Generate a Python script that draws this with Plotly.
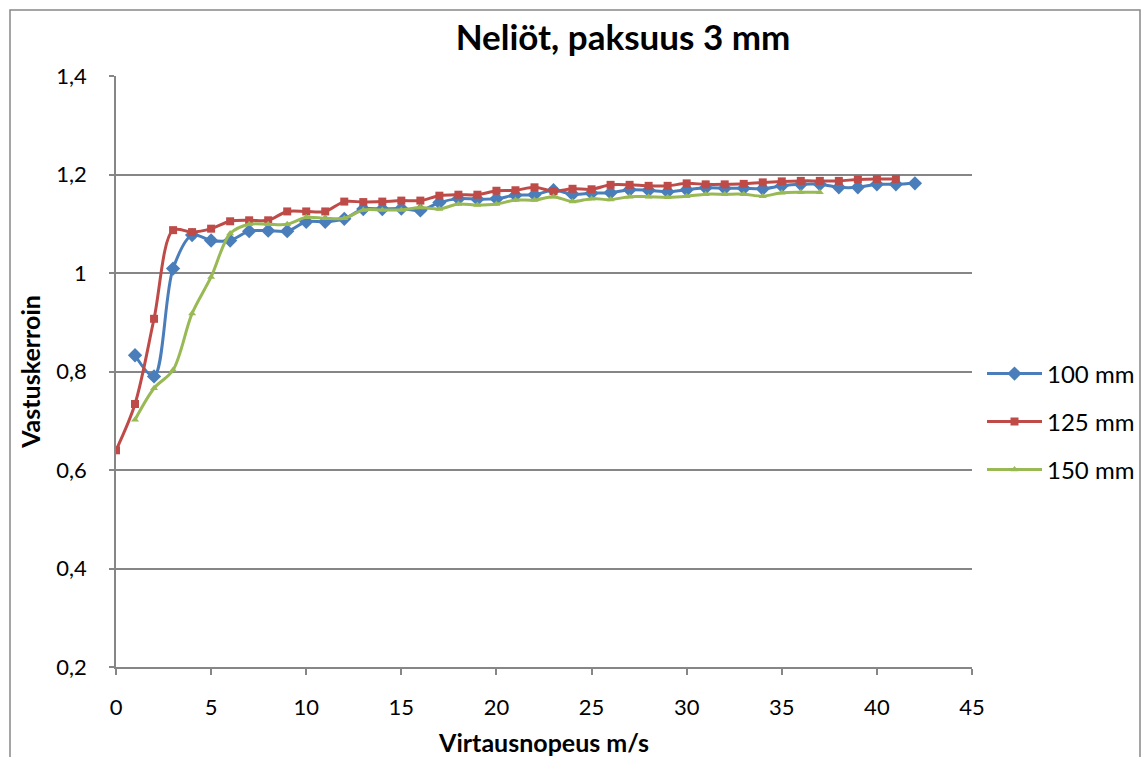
import plotly.graph_objects as go

# ---- data ----
x_100 = list(range(1, 43))
y_100 = [0.833, 0.790, 1.009, 1.077, 1.066, 1.066, 1.085, 1.086, 1.085, 1.104,
         1.104, 1.110, 1.130, 1.130, 1.131, 1.127, 1.143, 1.151, 1.150, 1.151,
         1.158, 1.159, 1.168, 1.160, 1.162, 1.163, 1.169, 1.168, 1.165, 1.169,
         1.173, 1.172, 1.172, 1.171, 1.177, 1.180, 1.180, 1.174, 1.174, 1.180,
         1.180, 1.182]

x_125 = list(range(0, 42))
y_125 = [0.640, 0.734, 0.907, 1.087, 1.083, 1.090, 1.105, 1.107, 1.107, 1.125,
         1.125, 1.125, 1.145, 1.144, 1.145, 1.147, 1.147, 1.157, 1.159, 1.159,
         1.167, 1.168, 1.174, 1.166, 1.171, 1.170, 1.179, 1.179, 1.177, 1.177,
         1.182, 1.180, 1.180, 1.181, 1.184, 1.186, 1.187, 1.187, 1.187, 1.190,
         1.191, 1.191]

x_150 = list(range(1, 38))
y_150 = [0.702, 0.766, 0.803, 0.918, 0.992, 1.080, 1.099, 1.099, 1.099, 1.113,
         1.111, 1.111, 1.128, 1.128, 1.128, 1.133, 1.130, 1.140, 1.138, 1.140,
         1.148, 1.148, 1.155, 1.145, 1.151, 1.149, 1.155, 1.155, 1.154, 1.156,
         1.160, 1.160, 1.160, 1.156, 1.163, 1.164, 1.164]

series_names = ["100 mm", "125 mm", "150 mm"]
y_tickvals = [0.2, 0.4, 0.6, 0.8, 1.0, 1.2, 1.4]
y_ticktext = ["0,2", "0,4", "0,6", "0,8", "1", "1,2", "1,4"]
x_tickvals = [0, 5, 10, 15, 20, 25, 30, 35, 40, 45]

title_text = "Neliöt, paksuus 3 mm"
x_title = "Virtausnopeus m/s"
y_title = "Vastuskerroin"

# ---- styling ----
FONT = "Lato, 'Open Sans', sans-serif"
colors = ["#4A7EBB", "#BE4B48", "#98B954"]
symbols = ["diamond", "square", "triangle-up"]
msizes = [11, 8, 7]

W, H = 1147, 757
L, R, T, B = 116, 972, 76, 667


def px_x(px):
    return (px - L) / (R - L)


def px_y(py):
    return (B - py) / (B - T)


fig = go.Figure()
xs = [x_100, x_125, x_150]
ys = [y_100, y_125, y_150]
legend_ids = ["legend", "legend2", "legend3"]
for i in range(3):
    fig.add_trace(go.Scatter(
        x=xs[i], y=ys[i], name=series_names[i], mode="lines+markers",
        line=dict(color=colors[i], width=3, shape="spline", smoothing=0.9),
        marker=dict(symbol=symbols[i], size=msizes[i], color=colors[i]),
        legend=legend_ids[i], showlegend=True,
    ))

legend_y_px = [374, 422, 470]
leg_common = dict(font=dict(family=FONT, size=24, color="#000"),
                  bgcolor="rgba(0,0,0,0)", xanchor="left", yanchor="middle",
                  itemwidth=55, visible=True)

fig.update_layout(
    width=W, height=H,
    showlegend=True,
    margin=dict(l=L, r=W - R, t=T, b=H - B, autoexpand=False),
    paper_bgcolor="white", plot_bgcolor="white",
    font=dict(family=FONT, size=22, color="#000"),
    title=dict(text=title_text, x=px_x(623), xref="paper", xanchor="center",
               y=1 - 38 / H, yanchor="middle",
               font=dict(family=FONT, size=35, color="#000", weight="bold")),
    legend=dict(x=px_x(982), y=px_y(legend_y_px[0]), **leg_common),
    legend2=dict(x=px_x(982), y=px_y(legend_y_px[1]), **leg_common),
    legend3=dict(x=px_x(982), y=px_y(legend_y_px[2]), **leg_common),
    xaxis=dict(range=[0, 45], tickvals=x_tickvals, showgrid=False,
               showline=True, linecolor="#868686", linewidth=1.5,
               ticks="outside", ticklen=6, tickcolor="#868686", tickwidth=1.5,
               ticklabelstandoff=14, zeroline=False, automargin=False,
               tickfont=dict(family=FONT, size=22),
               title=dict(text=x_title, standoff=17,
                          font=dict(family=FONT, size=25, weight="bold"))),
    yaxis=dict(range=[0.2, 1.4], tickvals=y_tickvals, ticktext=y_ticktext,
               showgrid=True, gridcolor="#868686", gridwidth=1.5,
               showline=True, linecolor="#868686", linewidth=1.5,
               ticks="outside", ticklen=5, tickcolor="#868686", tickwidth=1.5,
               ticklabelstandoff=18, zeroline=False, automargin=False,
               tickfont=dict(family=FONT, size=22),
               title=dict(text=y_title, standoff=9,
                          font=dict(family=FONT, size=25, weight="bold"))),
    shapes=[dict(type="rect", xref="paper", yref="paper",
                 x0=px_x(10), x1=px_x(1140), y0=px_y(800), y1=px_y(10),
                 line=dict(color="#888888", width=1.5), layer="below")],
)

fig.write_html("out.html")
